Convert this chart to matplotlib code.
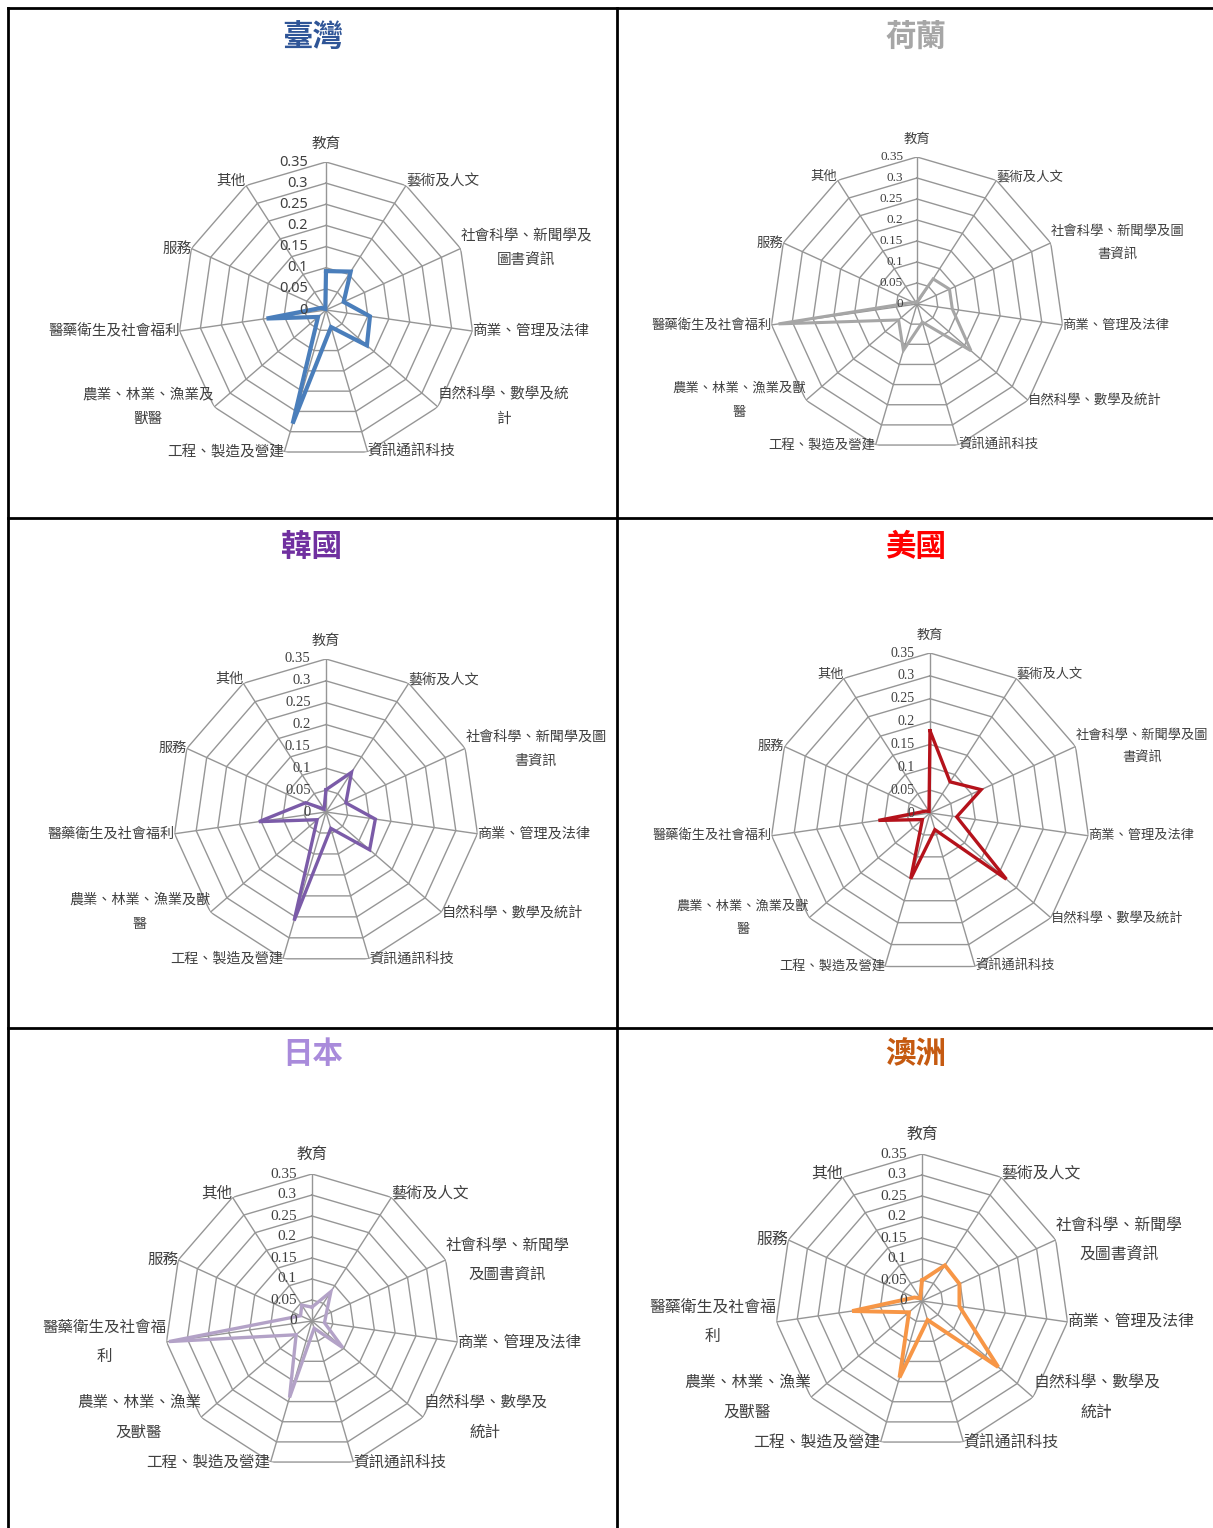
import matplotlib.pyplot as plt
import numpy as np
from matplotlib.lines import Line2D

W, H = 1213, 1528
plt.rcParams['font.family'] = ['Noto Sans CJK TC', 'DejaVu Sans']

categories = ["教育", "藝術及人文", "社會科學、新聞學及圖書資訊", "商業、管理及法律",
              "自然科學、數學及統計", "資訊通訊科技", "工程、製造及營建",
              "農業、林業、漁業及獸醫", "醫藥衛生及社會福利", "服務", "其他"]

tick_values = [0, 0.05, 0.1, 0.15, 0.2, 0.25, 0.3, 0.35]
tick_labels = ["0", "0.05", "0.1", "0.15", "0.2", "0.25", "0.3", "0.35"]

# share of graduates by field
taiwan = [0.092, 0.108, 0.046, 0.105, 0.128, 0.042, 0.280, 0.025, 0.142, 0.012, 0.003]
netherlands = [0.005, 0.071, 0.085, 0.085, 0.170, 0.045, 0.115, 0.058, 0.333, 0.010, 0.005]
korea = [0.051, 0.108, 0.050, 0.114, 0.132, 0.039, 0.259, 0.027, 0.155, 0.051, 0.008]
usa = [0.180, 0.081, 0.123, 0.059, 0.221, 0.038, 0.150, 0.022, 0.114, 0.010, 0.004]
japan = [0.033, 0.083, 0.037, 0.030, 0.097, 0.018, 0.190, 0.050, 0.344, 0.030, 0.045]
australia = [0.049, 0.101, 0.098, 0.090, 0.240, 0.047, 0.190, 0.041, 0.168, 0.020, 0.008]

# axis labels as wrapped in each panel
labels_tw = ["教育", "藝術及人文", "社會科學、新聞學及\n圖書資訊", "商業、管理及法律",
             "自然科學、數學及統\n計", "資訊通訊科技", "工程、製造及營建",
             "農業、林業、漁業及\n獸醫", "醫藥衛生及社會福利", "服務", "其他"]
labels_wide = ["教育", "藝術及人文", "社會科學、新聞學及圖\n書資訊", "商業、管理及法律",
               "自然科學、數學及統計", "資訊通訊科技", "工程、製造及營建",
               "農業、林業、漁業及獸\n醫", "醫藥衛生及社會福利", "服務", "其他"]
labels_narrow = ["教育", "藝術及人文", "社會科學、新聞學\n及圖書資訊", "商業、管理及法律",
                 "自然科學、數學及\n統計", "資訊通訊科技", "工程、製造及營建",
                 "農業、林業、漁業\n及獸醫", "醫藥衛生及社會福\n利", "服務", "其他"]

panels = [
    # title, values, labels, title colour, line colour, lw, centre(px), radius(px),
    # label size, tick font, tick size, tick offset
    ("臺灣", taiwan, labels_tw, "#2F5597", "#4A7EBB", 3.0, (326, 310), 148, 10.5, "Noto Sans", 10.5, -13),
    ("荷蘭", netherlands, labels_wide, "#A6A6A6", "#A6A6A6", 2.2, (917, 304), 147, 9.6, "Liberation Serif", 9.5, -10),
    ("韓國", korea, labels_wide, "#7030A0", "#7B5BA8", 2.4, (326, 812), 153, 10.2, "Liberation Serif", 10.5, -11),
    ("美國", usa, labels_wide, "#FF0000", "#B5121B", 2.4, (930, 813), 160, 9.5, "Liberation Serif", 10.0, -11),
    ("日本", japan, labels_narrow, "#A98BDB", "#B3A2C7", 2.4, (312, 1321), 147, 11.2, "Liberation Serif", 11.0, -11),
    ("澳洲", australia, labels_narrow, "#C55A11", "#F79646", 2.8, (922, 1301), 147, 11.4, "Liberation Serif", 11.0, -11),
]
title_pos = [(313, 37), (916, 37), (311, 547), (916, 547), (313, 1054), (916, 1054)]

fig = plt.figure(figsize=(W / 100, H / 100), dpi=100)

n = len(categories)
theta = np.linspace(0, 2 * np.pi, n, endpoint=False)
theta_closed = np.append(theta, theta[0])
rmax = tick_values[-1]
grid_color = "#969696"

for (title, vals, labels, tcol, lcol, lw, (cx, cy), R, fs, tick_font, tfs, toff), (tx, ty) in zip(panels, title_pos):
    ax = fig.add_axes([(cx - R) / W, 1 - (cy + R) / H, 2 * R / W, 2 * R / H], projection="polar")
    ax.set_theta_zero_location("N")
    ax.set_theta_direction(-1)
    ax.set_ylim(0, rmax)
    ax.set_xticks([])
    ax.set_yticks([])
    ax.grid(False)
    ax.spines["polar"].set_visible(False)
    ax.patch.set_alpha(0)

    # polygon rings and spokes
    for r in tick_values[1:]:
        ax.plot(theta_closed, [r] * (n + 1), color=grid_color, lw=1.0, zorder=1)
    for t in theta:
        ax.plot([t, t], [0, rmax], color=grid_color, lw=1.0, zorder=1)

    v = list(vals) + [vals[0]]
    ax.plot(theta_closed, v, color=lcol, lw=lw, solid_joinstyle="miter", zorder=3)

    # radial tick labels left of the top spoke
    for r, s in zip(tick_values, tick_labels):
        ax.annotate(s, xy=(0, r), xytext=(toff, 0), textcoords="offset points",
                    ha="right", va="center", fontsize=tfs, color="#404040",
                    family=tick_font, zorder=4)

    # category labels around the web
    for t, lab in zip(theta, labels):
        s = np.sin(t)
        if abs(s) < 0.1:
            ha, va, off = "center", "bottom", (0, 8)
        elif s > 0:
            ha, va, off = "left", "center", (0, 0)
        else:
            ha, va, off = "right", "center", (0, 0)
        if np.cos(t) > 0.5 and abs(s) >= 0.1:
            off = (0, 3)
        ax.annotate(lab, xy=(t, rmax), xytext=off, textcoords="offset points",
                    ha=ha, va=va, multialignment="center", fontsize=fs,
                    color="#404040", linespacing=1.95, annotation_clip=False)

    fig.text(tx / W, 1 - ty / H, title, ha="center", va="center", fontsize=22,
             fontweight="bold", color=tcol)

# table frame
frame = dict(color="black", lw=2.0)
for x in [8, 617]:
    fig.add_artist(Line2D([x / W, x / W], [0, 1 - 8 / H], **frame))
for y in [8, 518, 1028]:
    fig.add_artist(Line2D([8 / W, 1], [1 - y / H, 1 - y / H], **frame))

fig.savefig("out.png", dpi=100, facecolor="white")
